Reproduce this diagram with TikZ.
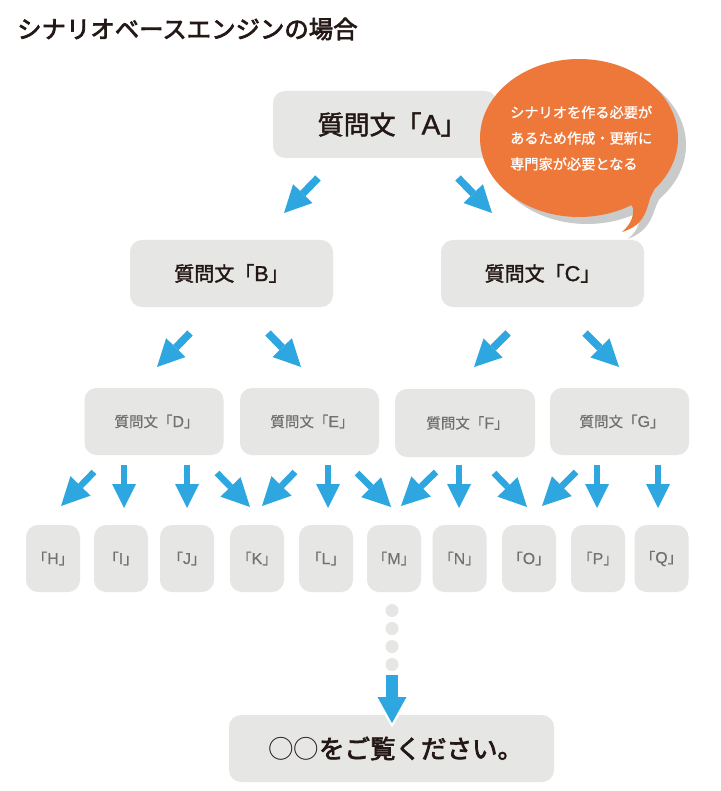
\documentclass[tikz,border=0pt]{standalone}
\usepackage{fontspec}
\usetikzlibrary{arrows.meta}
\newfontfamily\jp{Noto Sans CJK JP}
\newfontfamily\jpm[FakeBold=1.8]{Noto Sans CJK JP}
\newfontfamily\jph[FakeBold=2.8]{Noto Sans CJK JP}
\newfontfamily\jpl[FakeBold=0.6]{Noto Sans CJK JP}
\newfontfamily\jpw[FakeBold=1.2]{Noto Sans CJK JP}
\newfontfamily\latm[Scale=1.08,FakeBold=1.2]{Liberation Sans}
\newfontfamily\latl[Scale=1.1,FakeBold=0.3]{Liberation Sans}
\definecolor{boxgray}{HTML}{E6E6E5}
\definecolor{shadowgray}{HTML}{C9CACA}
\definecolor{inkblack}{HTML}{231815}
\definecolor{inkgray}{HTML}{727171}
\definecolor{skyarrow}{HTML}{2EA7E0}
\definecolor{bubbleorange}{HTML}{EE783A}
\newcommand{\midtext}[1]{\raisebox{-1.5pt}{\hspace*{5pt}質問文「{\latl #1}」}}
\tikzset{
  qbox/.style={fill=boxgray,rounded corners=12pt,inner sep=0pt,align=center},
  big/.style={qbox,minimum width=203pt,minimum height=67pt,text=inkblack,font=\jpm\fontsize{20}{20}\selectfont},
  mid/.style={qbox,minimum width=139pt,minimum height=67pt,text=inkgray,font=\jpl\fontsize{14.5}{15}\selectfont},
  small/.style={qbox,minimum width=54pt,minimum height=67pt,text=inkgray,font=\jpl\fontsize{14.5}{15}\selectfont},
  arrA/.style={draw=skyarrow,line width=7.5pt,-{Triangle[length=27pt,width=27pt,line width=0pt,color=skyarrow]}},
  arrB/.style={draw=skyarrow,line width=6pt,-{Triangle[length=24pt,width=24pt,line width=0pt,color=skyarrow]}},
  arrC/.style={draw=skyarrow,line width=6.5pt,-{Triangle[length=28pt,width=28pt,line width=0pt,color=skyarrow]}},
  dotn/.style={circle,fill=boxgray,minimum size=13pt,inner sep=0pt},
  bubbletext/.style={text=white,font=\jpw\fontsize{14.2}{25.8}\selectfont,align=left,inner sep=0pt}
}
\begin{document}
\begin{tikzpicture}[x=1pt,y=-1pt]
\useasboundingbox (0,0) rectangle (720,791);
\fill[white] (0,0) rectangle (720,791);

\node[anchor=west,inner sep=0pt,text=inkblack,font=\jph\fontsize{24.4}{25}\selectfont] (title) at (17,29) {シナリオベースエンジンの場合};

% first level
\node[big,minimum width=224pt,font=\jpm\fontsize{26}{26}\selectfont] (A) at (385,124.5) {\hspace*{14pt}質問文「{\latm A}」};

% speech bubble shadow
\fill[shadowgray] (587,145) ellipse [x radius=99,y radius=79];
\fill[shadowgray] (628,190) -- (661,197) .. controls (652,207) and (656,228) .. (628,239) .. controls (636,232) and (640,225) .. (639,217) -- cycle;

% second level
\node[big] (B) at (231.5,273.5) {質問文「{\latm B}」};
\node[big] (C) at (542.5,273.5) {質問文「{\latm C}」};

% third level
\node[mid] (D) at (154,421.5) {\midtext{D}};
\node[mid] (E) at (309.5,421.5) {\midtext{E}};
\node[mid,minimum width=140pt,minimum height=68pt] (F) at (465,423) {\midtext{F}};
\node[mid] (G) at (619.5,421.5) {\midtext{G}};

% fourth level
\foreach \n/\x in {H/53,I/121,J/187,K/257,L/326,M/394,N/459.5,O/529,P/598,Q/661.5}
  \node[small] (\n) at (\x,558.5) {「{\latl\n}」};

% bubble
\fill[bubbleorange] (579,138) ellipse [x radius=99,y radius=79];
\fill[bubbleorange] (620,185) -- (654,190) -- (650,198) .. controls (646,214) and (642,226) .. (622,232) .. controls (630,225) and (634,217) .. (633,208) -- cycle;
\node[bubbletext,anchor=north west] (note) at (510,105.5) {シナリオを作る必要が\\あるため作成・更新に\\専門家が必要となる};

% arrows
\foreach \n/\a/\b/\c/\d in {
  ab/318/178/284/213, ac/458/178/492/213,
  bd/190/333/157/367, be/268/333/301/367,
  cf/508/333/474/367, cg/585/333/619/367}{
  \coordinate (\n s) at (\a,\b);
  \coordinate (\n e) at (\c,\d);
  \draw[arrA] (\n s) -- (\n e);
}
\foreach \n/\a/\b/\c/\d in {
  di/124/465/124/508, dj/187/465/187/508,
  el/328/465/328/508,
  fn/459/465/459/508,
  gp/597/465/597/508, gq/658/465/658/508}{
  \coordinate (\n s) at (\a,\b);
  \coordinate (\n e) at (\c,\d);
  \draw[arrB] (\n s) -- (\n e);
}
\foreach \n/\a/\b/\c/\d in {
  dh/94/472/61/506, dk/217/473/250/507,
  ek/295/472/262/506, em/357/473/391/507,
  fm/436/472/401/506, fo/494/473/527/507,
  go/576/472/542/506}{
  \coordinate (\n s) at (\a,\b);
  \coordinate (\n e) at (\c,\d);
  \draw[arrC] (\n s) -- (\n e);
}

% dots
\node[dotn] (d1) at (392,610.5) {};
\node[dotn] (d2) at (392,628.5) {};
\node[dotn] (d3) at (392,646.5) {};
\node[dotn] (d4) at (392,664.5) {};

% final box
\node[qbox,minimum width=325pt,minimum height=67pt,text=inkblack,font=\jph\fontsize{25.5}{26}\selectfont] (Z) at (391.5,748.5) {\hspace*{8pt}{\jp ○○}をご覧ください。};

% last arrow, with its white edge on the box
\coordinate (zs) at (392,675);
\coordinate (ze) at (392,723);
\fill[white] (374,697) -- (392,727.5) -- (410,697) -- cycle;
\draw[draw=skyarrow,line width=11.5pt,-{Triangle[length=26pt,width=29pt,line width=0pt,color=skyarrow]}] (zs) -- (ze);
\end{tikzpicture}
\end{document}
